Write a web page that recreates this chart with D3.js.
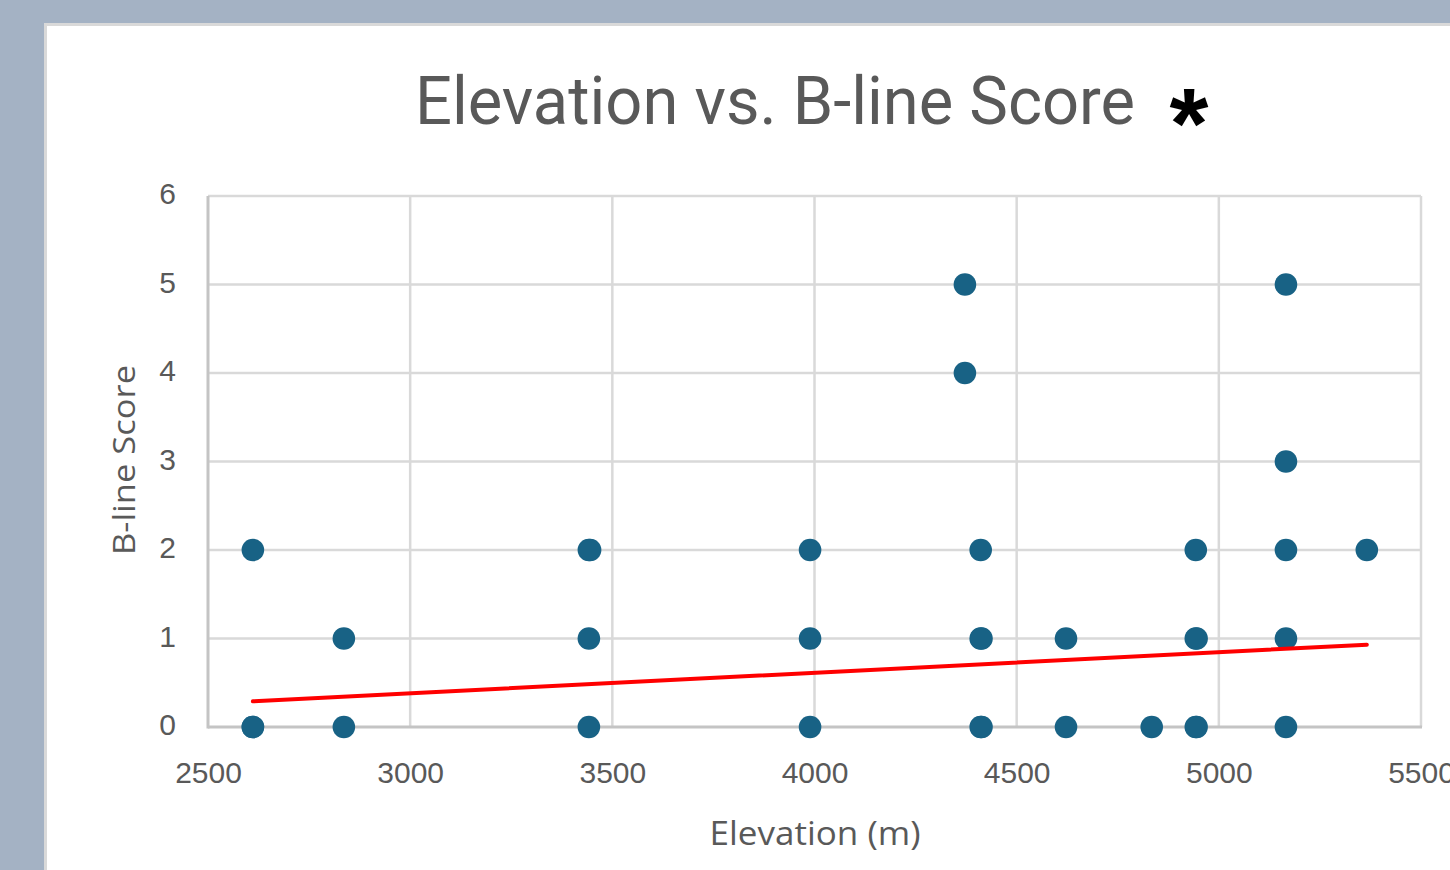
<!DOCTYPE html>
<html><head><meta charset="utf-8">
<script src="https://cdn.jsdelivr.net/npm/d3@7"></script>
<style>
html,body{margin:0;padding:0;background:#a4b2c4;}
svg{display:block;}
</style></head>
<body>
<svg id="chart" width="1450" height="870"></svg>
<script>
// Data
const elevation = [2611,2611,2611, 2836,2836, 3442,3442,3442,3445, 3989,3989,3989, 4372,4372, 4411,4411,4413,4411,4413, 4622,4622, 4834, 4943,4943,4945,4943,4945, 5166,5166,5166,5166,5166, 5366];
const score     = [2,0,0, 1,0, 2,1,0,2, 2,1,0, 5,4, 2,1,1,0,0, 1,0, 0, 2,1,1,0,0, 5,3,2,1,0, 2];
const trendX = [2611, 5366];
const trendY = [0.29, 0.93];
const xTicks = [2500,3000,3500,4000,4500,5000,5500];
const yTicks = [0,1,2,3,4,5,6];

const svg = d3.select("#chart");
// white panel
svg.append("rect").attr("x",45.5).attr("y",24.5).attr("width",1450).attr("height",900)
  .attr("fill","#fff").attr("stroke","#d9d9d9").attr("stroke-width",3);

const x = d3.scaleLinear().domain([2500,5500]).range([208,1421]);
const y = d3.scaleLinear().domain([0,6]).range([727,196]);

const grid = svg.append("g");
grid.selectAll("line.v").data(xTicks.slice(1)).join("line")
  .attr("x1",d=>x(d)).attr("x2",d=>x(d)).attr("y1",y(6)).attr("y2",y(0))
  .attr("stroke","#d9d9d9").attr("stroke-width",2.5);
grid.selectAll("line.h").data(yTicks.slice(1)).join("line")
  .attr("x1",x(2500)).attr("x2",x(5500)).attr("y1",d=>y(d)).attr("y2",d=>y(d))
  .attr("stroke","#d9d9d9").attr("stroke-width",2.5);
// axis lines
svg.append("line").attr("x1",x(2500)).attr("x2",x(2500)).attr("y1",y(6)).attr("y2",y(0)+1.5)
  .attr("stroke","#c4c4c4").attr("stroke-width",3);
svg.append("line").attr("x1",x(2500)).attr("x2",x(5500)+1).attr("y1",y(0)).attr("y2",y(0))
  .attr("stroke","#c4c4c4").attr("stroke-width",3);

// axes labels via d3 axes
const xAxis = d3.axisBottom(x).tickValues(xTicks).tickSize(0).tickPadding(0).tickFormat(d3.format("d"));
const gx = svg.append("g").attr("transform",`translate(0,${y(0)})`).call(xAxis);
gx.select(".domain").remove();
gx.selectAll("text").attr("dy",null).attr("y",56).attr("fill","#595959")
  .style("font-family","Liberation Sans, Arial, sans-serif").style("font-size","30px");

const yAxis = d3.axisLeft(y).tickValues(yTicks).tickSize(0).tickPadding(0).tickFormat(d3.format("d"));
const gy = svg.append("g").attr("transform",`translate(${x(2500)},0)`).call(yAxis);
gy.select(".domain").remove();
gy.selectAll("text").attr("x",-32).attr("dy","0.25em").attr("fill","#595959")
  .style("font-family","Liberation Sans, Arial, sans-serif").style("font-size","30px");

// points
svg.append("g").selectAll("circle").data(elevation.map((e,i)=>({e,s:score[i]}))).join("circle")
  .attr("cx",d=>x(d.e)).attr("cy",d=>y(d.s)).attr("r",11.3).attr("fill","#186285");

// trendline
svg.append("line").attr("x1",x(trendX[0])).attr("y1",y(trendY[0])).attr("x2",x(trendX[1])).attr("y2",y(trendY[1]))
  .attr("stroke","#ff0000").attr("stroke-width",4).attr("stroke-linecap","round");

// title
svg.append("text").attr("x",415).attr("y",124).attr("textLength",720).attr("lengthAdjust","spacingAndGlyphs")
  .attr("fill","#595959").style("font-family","Roboto, sans-serif").style("font-size","66px")
  .text("Elevation vs. B-line Score");
svg.append("text").attr("x",1189).attr("y",158).attr("text-anchor","middle")
  .attr("fill","#000").style("font-family","Liberation Sans, Arial, sans-serif").style("font-weight","bold").style("font-size","100px")
  .text("*");

// axis titles
svg.append("text").attr("x",815).attr("y",845).attr("text-anchor","middle").attr("textLength",211).attr("lengthAdjust","spacingAndGlyphs")
  .attr("fill","#595959").style("font-family","Open Sans, sans-serif").style("font-size","32px")
  .text("Elevation (m)");
svg.append("text").attr("transform","translate(135,460) rotate(-90)").attr("text-anchor","middle").attr("textLength",190).attr("lengthAdjust","spacingAndGlyphs")
  .attr("fill","#595959").style("font-family","Open Sans, sans-serif").style("font-size","31px")
  .text("B-line Score");
</script>
</body></html>
